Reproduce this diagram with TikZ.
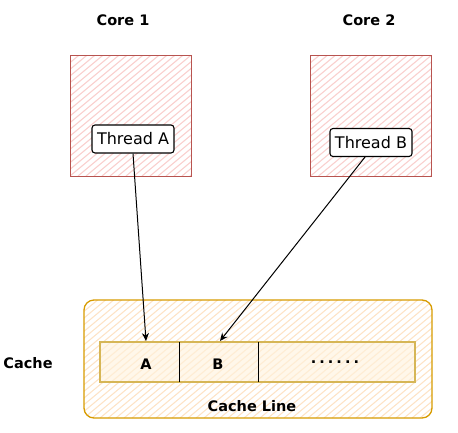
\documentclass[tikz,border=0pt]{standalone}
\usepackage{fontspec}
\setmainfont{DejaVu Sans}
\usetikzlibrary{arrows.meta}
\definecolor{redstroke}{HTML}{B85450}
\definecolor{redhatch}{HTML}{F9D0CE}
\definecolor{orstroke}{HTML}{D79B00}
\definecolor{orhatch}{HTML}{FDE3C6}
\definecolor{yelstroke}{HTML}{D6B656}
\definecolor{yelfill}{HTML}{FFF2DC}
\tikzset{
  hatch/.style={path picture={
    \foreach \k in {-200,-192,...,360}
      \draw[#1, line width=1.1pt] ([xshift=\k pt]path picture bounding box.south west) -- ++(180pt,150pt);
  }},
  core/.style={draw=redstroke, line width=1pt, minimum width=121pt, minimum height=121pt, hatch=redhatch},
  thread/.style={draw=black, line width=1.1pt, fill=white, rounded corners=3pt, minimum width=82pt, minimum height=28pt, inner sep=1pt, font=\fontsize{16}{18}\selectfont},
  title/.style={font=\bfseries\fontsize{14.5}{17}\selectfont},
  cache/.style={draw=orstroke, line width=1.3pt, rounded corners=10pt, minimum width=348pt, minimum height=118pt, hatch=orhatch},
  cell/.style={minimum height=40pt, inner sep=0pt},
  arr/.style={draw=black, line width=1pt, -{Stealth[length=8pt,width=7pt]}},
}
\begin{document}
\begin{tikzpicture}[x=1pt,y=-1pt]
\useasboundingbox (0,0) rectangle (458,432);
\node[title] (core1lbl) at (123,20) {Core 1};
\node[title] (core2lbl) at (369,20) {Core 2};
\node[core] (c1) at (130.5,115.5) {};
\node[core] (c2) at (371,115.5) {};
\node[thread] (tA) at (133,139) {Thread A};
\node[thread] (tB) at (371,142.5) {Thread B};
\node[cache] (cache) at (258,359) {};
\node[cell, minimum width=315pt, draw=yelstroke, line width=1.2pt, fill=yelfill, fill opacity=0.6] (row) at (257.5,362) {};
\node[cell, minimum width=79pt] (cA) at (139.5,362) {};
\node[cell, minimum width=79pt] (cB) at (218.5,362) {};
\node[cell, minimum width=157pt] (cC) at (336.5,362) {};
\draw[black, line width=1.1pt] (cA.north east) -- (cA.south east);
\draw[black, line width=1.1pt] (cB.north east) -- (cB.south east);
\node[title] (lA) at (146,364) {A};
\node[title] (lB) at (218,364) {B};
\node[title] (lC) at (335,362) {.\kern3pt.\kern3pt.\kern3pt.\kern3pt.\kern3pt.};
\node[title] (cachelbl) at (28,363) {Cache};
\node[title] (linelbl) at (252,406) {Cache Line};
\coordinate (pA) at (146,341);
\coordinate (pB) at (220,341);
\draw[arr] (tA.south) -- (pA);
\draw[arr] ([xshift=-6pt]tB.south) -- (pB);
\end{tikzpicture}
\end{document}
